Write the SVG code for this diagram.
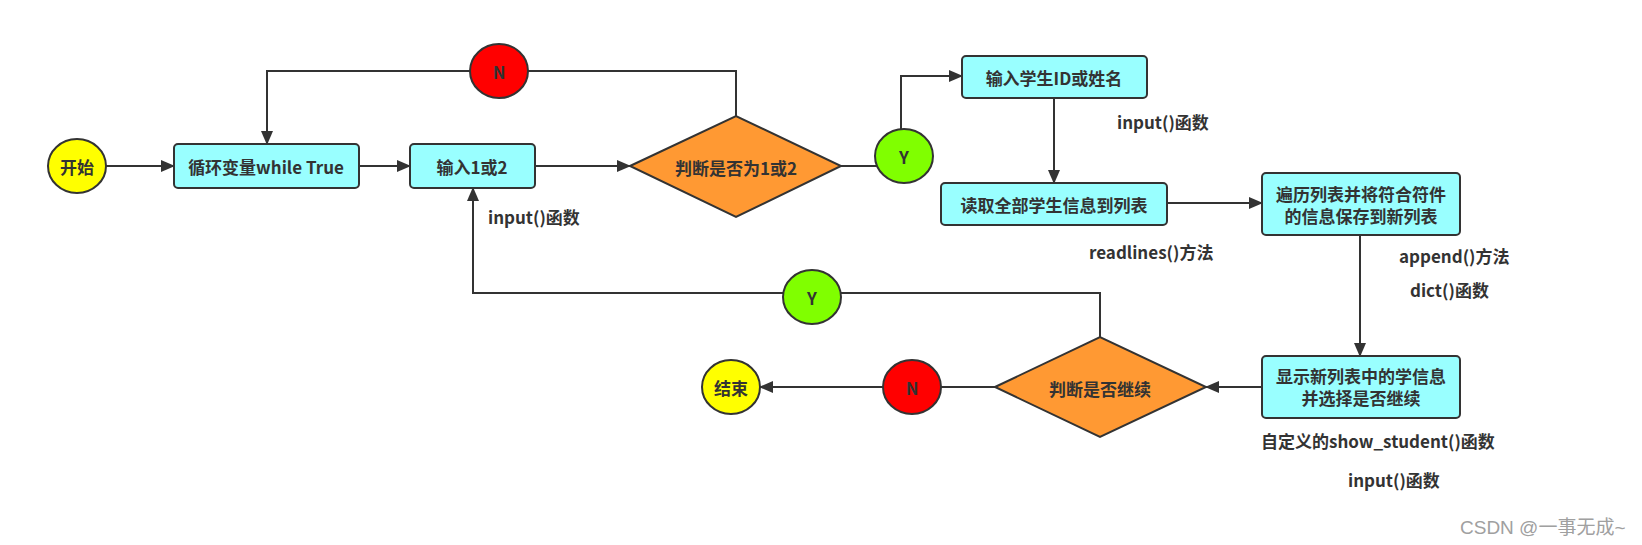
<svg xmlns="http://www.w3.org/2000/svg" width="1642" height="545" viewBox="0 0 1642 545">
<defs>
<marker id="arr" markerUnits="userSpaceOnUse" markerWidth="14" markerHeight="12" refX="13" refY="6" orient="auto">
<path d="M0,0 L14,6 L0,12 Z" fill="#333"/>
</marker>
<style>
.box{fill:#99ffff;stroke:#333;stroke-width:2}
.dia{fill:#ff9933;stroke:#333;stroke-width:2}
.yel{fill:#ffff00;stroke:#333;stroke-width:2}
.red{fill:#ff0000;stroke:#333;stroke-width:2}
.grn{fill:#80ff00;stroke:#333;stroke-width:2}
.ln{fill:none;stroke:#333;stroke-width:2}
.t{font-family:"Noto Sans CJK SC","Noto Sans",sans-serif;font-size:17px;font-weight:bold;fill:#333;text-anchor:middle;dominant-baseline:central}
.l{font-family:"Noto Sans CJK SC","Noto Sans",sans-serif;font-size:17px;font-weight:bold;fill:#333;dominant-baseline:central}
.wm{font-family:"Liberation Sans","Noto Sans CJK SC",sans-serif;font-size:19px;fill:#a0a0a0;dominant-baseline:central}
</style>
</defs>
<rect width="1642" height="545" fill="#fff"/>
<g id="connectors">
<path class="ln" d="M106,166 H174" marker-end="url(#arr)"/>
<path class="ln" d="M359,166 H410" marker-end="url(#arr)"/>
<path class="ln" d="M535,166 H630" marker-end="url(#arr)"/>
<path class="ln" d="M736,116 V71 H267 V144" marker-end="url(#arr)"/>
<path class="ln" d="M841,166 H901 V76 H962" marker-end="url(#arr)"/>
<path class="ln" d="M1054,98 V183" marker-end="url(#arr)"/>
<path class="ln" d="M1167,203 H1262" marker-end="url(#arr)"/>
<path class="ln" d="M1360,235 V356" marker-end="url(#arr)"/>
<path class="ln" d="M1262,387 H1206" marker-end="url(#arr)"/>
<path class="ln" d="M1100,337 V293 H473 V188" marker-end="url(#arr)"/>
<path class="ln" d="M995,387 H760" marker-end="url(#arr)"/>
</g>
<g id="start"><ellipse class="yel" cx="77" cy="166" rx="29" ry="27"/><text class="t" x="77" y="166">开始</text></g>
<g id="loop"><rect class="box" x="174" y="144" width="185" height="44" rx="4"/><text class="t" x="266" y="166">循环变量while True</text></g>
<g id="input12"><rect class="box" x="410" y="144" width="125" height="44" rx="4"/><text class="t" x="472" y="166">输入1或2</text></g>
<g id="judge12"><polygon class="dia" points="630,166 736,116 841,166 736,217"/><text class="t" x="736" y="167">判断是否为1或2</text></g>
<g id="n1"><ellipse class="red" cx="499" cy="71" rx="29" ry="27"/><text class="t" x="499" y="71">N</text></g>
<g id="y1"><ellipse class="grn" cx="904" cy="156" rx="29" ry="27"/><text class="t" x="904" y="156">Y</text></g>
<g id="inputid"><rect class="box" x="962" y="56" width="185" height="42" rx="4"/><text class="t" x="1054" y="77">输入学生ID或姓名</text></g>
<g id="readall"><rect class="box" x="941" y="183" width="226" height="42" rx="4"/><text class="t" x="1054" y="204">读取全部学生信息到列表</text></g>
<g id="filter"><rect class="box" x="1262" y="173" width="198" height="62" rx="4"/><text class="t" x="1361" y="193">遍历列表并将符合符件<tspan x="1361" dy="22">的信息保存到新列表</tspan></text></g>
<g id="show"><rect class="box" x="1262" y="356" width="198" height="62" rx="4"/><text class="t" x="1361" y="375">显示新列表中的学信息<tspan x="1361" dy="22">并选择是否继续</tspan></text></g>
<g id="judgecont"><polygon class="dia" points="995,387 1100,337 1206,387 1100,437"/><text class="t" x="1100" y="388">判断是否继续</text></g>
<g id="y2"><ellipse class="grn" cx="812" cy="297" rx="29" ry="27"/><text class="t" x="812" y="297">Y</text></g>
<g id="n2"><ellipse class="red" cx="912" cy="387" rx="29" ry="27"/><text class="t" x="912" y="387">N</text></g>
<g id="end"><ellipse class="yel" cx="731" cy="387" rx="29" ry="27"/><text class="t" x="731" y="387">结束</text></g>
<g id="labels">
<text class="l" x="488" y="216">input()函数</text>
<text class="l" x="1117" y="121">input()函数</text>
<text class="l" x="1089" y="251">readlines()方法</text>
<text class="l" x="1399" y="255">append()方法</text>
<text class="l" x="1410" y="289">dict()函数</text>
<text class="l" x="1261" y="440">自定义的show_student()函数</text>
<text class="l" x="1348" y="479">input()函数</text>
<text class="wm" x="1460" y="527">CSDN @一事无成~</text>
</g>
</svg>
